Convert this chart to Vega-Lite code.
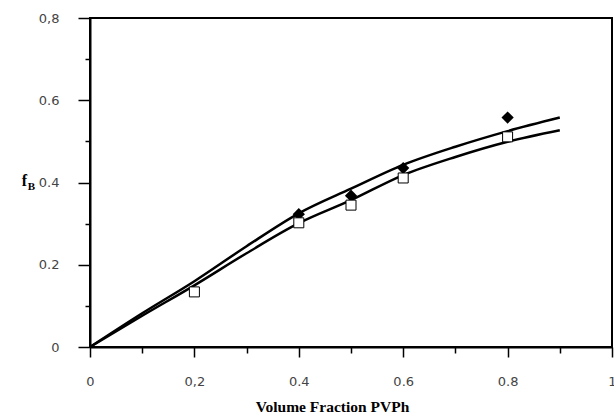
{
  "$schema": "https://vega.github.io/schema/vega-lite/v6.json",
  "width": 522,
  "height": 329,
  "autosize": {"type": "none"},
  "padding": {"left": 90, "top": 18, "right": 2, "bottom": 72},
  "background": "white",
  "config": {
    "view": {"stroke": "black", "strokeWidth": 2},
    "axis": {
      "domainColor": "black",
      "domainWidth": 2,
      "tickColor": "black",
      "tickWidth": 1.5,
      "grid": false,
      "labelFont": "DejaVu Sans",
      "labelFontSize": 13,
      "labelColor": "#444444",
      "labelOverlap": false,
      "labelBound": false,
      "labelFlush": false
    }
  },
  "data": {
    "values": [
      {"kind": "curve", "series": "upper", "v": 0.0, "f": 0.0},
      {"kind": "curve", "series": "upper", "v": 0.1, "f": 0.082},
      {"kind": "curve", "series": "upper", "v": 0.2, "f": 0.16},
      {"kind": "curve", "series": "upper", "v": 0.3, "f": 0.245},
      {"kind": "curve", "series": "upper", "v": 0.4, "f": 0.325},
      {"kind": "curve", "series": "upper", "v": 0.5, "f": 0.385},
      {"kind": "curve", "series": "upper", "v": 0.6, "f": 0.443},
      {"kind": "curve", "series": "upper", "v": 0.7, "f": 0.487},
      {"kind": "curve", "series": "upper", "v": 0.8, "f": 0.525},
      {"kind": "curve", "series": "upper", "v": 0.9, "f": 0.558},
      {"kind": "curve", "series": "lower", "v": 0.0, "f": 0.0},
      {"kind": "curve", "series": "lower", "v": 0.1, "f": 0.076},
      {"kind": "curve", "series": "lower", "v": 0.2, "f": 0.15},
      {"kind": "curve", "series": "lower", "v": 0.3, "f": 0.228},
      {"kind": "curve", "series": "lower", "v": 0.4, "f": 0.301},
      {"kind": "curve", "series": "lower", "v": 0.5, "f": 0.357},
      {"kind": "curve", "series": "lower", "v": 0.6, "f": 0.418},
      {"kind": "curve", "series": "lower", "v": 0.7, "f": 0.462},
      {"kind": "curve", "series": "lower", "v": 0.8, "f": 0.499},
      {"kind": "curve", "series": "lower", "v": 0.9, "f": 0.527},
      {"kind": "diamond", "series": "diamond", "v": 0.4, "f": 0.323},
      {"kind": "diamond", "series": "diamond", "v": 0.5, "f": 0.368},
      {"kind": "diamond", "series": "diamond", "v": 0.6, "f": 0.435},
      {"kind": "diamond", "series": "diamond", "v": 0.8, "f": 0.558},
      {"kind": "square", "series": "square", "v": 0.2, "f": 0.134},
      {"kind": "square", "series": "square", "v": 0.4, "f": 0.302},
      {"kind": "square", "series": "square", "v": 0.5, "f": 0.345},
      {"kind": "square", "series": "square", "v": 0.6, "f": 0.411},
      {"kind": "square", "series": "square", "v": 0.8, "f": 0.511}
    ]
  },
  "encoding": {
    "x": {
      "field": "v",
      "type": "quantitative",
      "scale": {"domain": [0, 1], "nice": false, "zero": false},
      "axis": {
        "title": "Volume Fraction PVPh",
        "titleFont": "Liberation Serif",
        "titleFontWeight": "bold",
        "titleFontSize": 15.5,
        "titleColor": "black",
        "titlePadding": 11,
        "titleX": 242,
        "titleAlign": "center",
        "values": [0, 0.1, 0.2, 0.3, 0.4, 0.5, 0.6, 0.7, 0.8, 0.9, 1],
        "tickSize": {"condition": {"test": "round(datum.value * 10) % 2 == 0", "value": 10}, "value": 6},
        "labelPadding": 18,
        "labelExpr": "round(datum.value * 10) % 2 != 0 ? '' : (datum.value == 0 ? '0' : datum.value == 1 ? '1' : datum.value == 0.2 ? '0,2' : format(datum.value, '.1f'))"
      }
    }
  },
  "resolve": {"axis": {"y": "independent"}},
  "layer": [
    {
      "transform": [{"filter": "datum.kind == 'curve'"}],
      "mark": {"type": "line", "color": "black", "strokeWidth": 2.5, "interpolate": "monotone"},
      "encoding": {
        "detail": {"field": "series"},
        "y": {
          "field": "f",
          "type": "quantitative",
          "scale": {"domain": [0, 0.8], "nice": false, "zero": false},
          "axis": {
            "orient": "left",
            "title": "f",
            "titleAngle": 0,
            "titleFont": "Liberation Serif",
            "titleFontWeight": "bold",
            "titleFontSize": 16,
            "titleColor": "black",
            "titleX": -66,
            "titleY": 162,
            "titleAlign": "center",
            "titleBaseline": "middle",
            "values": [0, 0.1, 0.2, 0.3, 0.4, 0.5, 0.6, 0.7, 0.8],
            "tickSize": {"condition": {"test": "round(datum.value * 10) % 2 == 0", "value": 12}, "value": 5},
            "labelPadding": 19,
            "labelExpr": "round(datum.value * 10) % 2 != 0 ? '' : (datum.value == 0 ? '0' : datum.value == 0.8 ? '0,8' : format(datum.value, '.1f'))"
          }
        }
      }
    },
    {
      "transform": [{"filter": "datum.kind == 'diamond'"}],
      "mark": {"type": "point", "shape": "diamond", "filled": true, "color": "black", "size": 150, "opacity": 1},
      "encoding": {
        "y": {
          "field": "f",
          "type": "quantitative",
          "scale": {"domain": [0, 0.8], "nice": false, "zero": false},
          "axis": {
            "orient": "left",
            "title": "B",
            "titleAngle": 0,
            "titleFont": "Liberation Serif",
            "titleFontWeight": "bold",
            "titleFontSize": 11,
            "titleColor": "black",
            "titleX": -59,
            "titleY": 168,
            "titleAlign": "center",
            "titleBaseline": "middle",
            "domain": false,
            "ticks": false,
            "labels": false
          }
        }
      }
    },
    {
      "transform": [{"filter": "datum.kind == 'square'"}],
      "mark": {"type": "point", "shape": "square", "filled": true, "fill": "white", "stroke": "black", "strokeWidth": 1, "size": 100, "opacity": 1},
      "encoding": {
        "y": {
          "field": "f",
          "type": "quantitative",
          "scale": {"domain": [0, 0.8], "nice": false, "zero": false},
          "axis": null
        }
      }
    }
  ]
}
